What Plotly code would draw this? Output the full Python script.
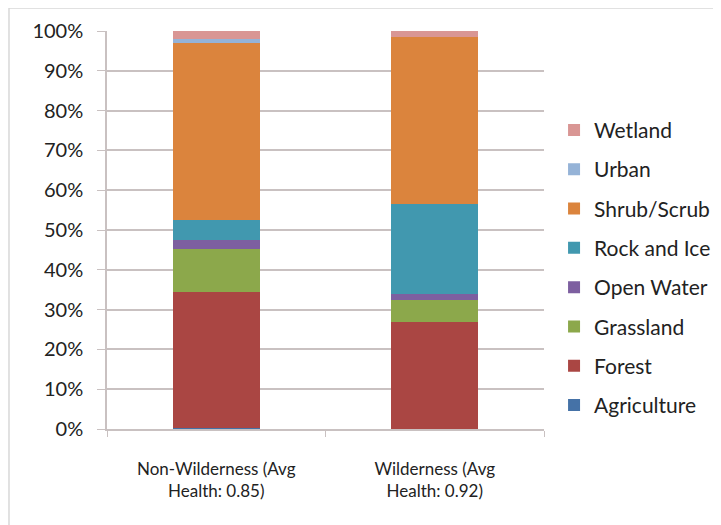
import plotly.graph_objects as go

categories = ["Non-Wilderness (Avg<br>Health: 0.85)", "Wilderness (Avg<br>Health: 0.92)"]

agriculture = [0.3, 0.1]
forest = [34.1, 26.9]
grassland = [10.9, 5.5]
open_water = [2.2, 1.4]
rock_and_ice = [5.0, 22.6]
shrub_scrub = [44.6, 42.1]
urban = [0.8, 0.0]
wetland = [2.1, 1.4]

series = [
    ("Agriculture", agriculture, "#4572A7"),
    ("Forest", forest, "#AA4643"),
    ("Grassland", grassland, "#8CA84B"),
    ("Open Water", open_water, "#7D5FA0"),
    ("Rock and Ice", rock_and_ice, "#4198AF"),
    ("Shrub/Scrub", shrub_scrub, "#DB843D"),
    ("Urban", urban, "#95B3D7"),
    ("Wetland", wetland, "#D99694"),
]

font = "Lato, 'Open Sans', sans-serif"

fig = go.Figure()
for i, (name, vals, color) in enumerate(series):
    fig.add_trace(
        go.Bar(
            x=categories,
            y=[v / 100 for v in vals],
            name=name,
            legendgroup=name,
            legendrank=1000 - i,  # top of stack first in legend
            marker=dict(color=color, line=dict(width=0)),
        )
    )

# page body adds an 8px offset, so the figure is sized 8px smaller
fig.update_layout(
    barmode="stack",
    bargap=0.6,
    width=713,
    height=517,
    margin=dict(l=99, r=177, t=23, b=96, autoexpand=False),
    paper_bgcolor="white",
    plot_bgcolor="white",
    font=dict(family=font, size=17, color="#222222"),
    legend=dict(
        traceorder="grouped",
        tracegroupgap=9,
        x=1.023,
        y=0.405,
        yanchor="middle",
        font=dict(size=21),
        itemwidth=30,
    ),
    shapes=[
        dict(
            type="rect",
            xref="paper",
            yref="paper",
            x0=-0.2243,
            x1=1.6,
            y0=-0.5,
            y1=1.058,
            line=dict(color="#d8d8d8", width=1.5),
            layer="below",
        )
    ],
)

fig.update_yaxes(
    range=[0, 1],
    tickformat=".0%",
    dtick=0.1,
    tickfont=dict(size=20),
    showgrid=True,
    gridcolor="#c9c1c1",
    gridwidth=1.5,
    showline=True,
    linecolor="#c9c1c1",
    linewidth=1.5,
    ticks="outside",
    ticklen=8,
    tickcolor="#c9c1c1",
    ticklabelstandoff=10,
    zeroline=False,
)
fig.update_xaxes(
    showline=True,
    linecolor="#c9c1c1",
    linewidth=1.5,
    ticks="outside",
    tickson="boundaries",
    ticklen=6,
    tickcolor="#c9c1c1",
    ticklabelstandoff=24,
)

fig.write_html("out.html")
